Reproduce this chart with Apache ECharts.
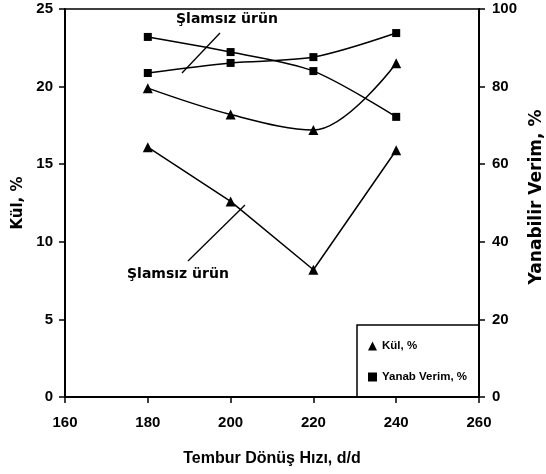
<!DOCTYPE html>
<html><head><meta charset="utf-8">
<script src="https://cdn.jsdelivr.net/npm/echarts@6/dist/echarts.min.js"></script>
<style>html,body{margin:0;padding:0;background:#fff}#c{width:546px;height:474px}</style>
</head><body><div id="c"></div>
<script>
const xTicks = [160, 180, 200, 220, 240, 260];
const speeds = [180, 200, 220, 240];
const kulUpper = [19.9, 18.2, 17.2, 21.5];
const kulLower = [16.1, 12.6, 8.2, 15.9];
const verimA = [92.8, 88.9, 84.0, 72.2];
const verimB = [83.5, 86.1, 87.6, 93.8];

const F = 'Liberation Sans';
const D = 'DejaVu Sans';
const pair = a => speeds.map((s, i) => [s, a[i]]);
const chart = echarts.init(document.getElementById('c'));
const lineS = (name, data, yIdx, sym, size, smooth) => ({
  name, type: 'line', data: pair(data), yAxisIndex: yIdx, smooth,
  symbol: sym, symbolSize: size, lineStyle: {color: '#000', width: 1.5},
  itemStyle: {color: '#000'}, silent: true, animation: false
});
const lbl = {fontFamily: F, fontWeight: 'bold', fontSize: 15, color: '#000'};
chart.setOption({
  animation: false,
  grid: {left: 65, right: 67, top: 9, bottom: 77, show: true, borderColor: '#000', borderWidth: 1.5,
         containLabel: false, outerBoundsMode: 'none'},
  xAxis: {
    type: 'value', min: 160, max: 260, interval: 20,
    name: 'Tembur Dönüş Hızı, d/d', nameLocation: 'middle', nameGap: 54,
    nameTextStyle: {fontFamily: F, fontWeight: 'bold', fontSize: 16, color: '#000'},
    axisLine: {lineStyle: {color: '#000', width: 2}},
    axisTick: {inside: false, length: 6, lineStyle: {color: '#000', width: 1.5}},
    axisLabel: Object.assign({margin: 18}, lbl),
    splitLine: {show: false}
  },
  yAxis: [{
    type: 'value', min: 0, max: 25, interval: 5, position: 'left',
    name: 'Kül, %', nameLocation: 'middle', nameGap: 37, nameRotate: 90,
    nameTextStyle: {fontFamily: D, fontWeight: 'bold', fontSize: 15, color: '#000'},
    axisLine: {show: true, lineStyle: {color: '#000', width: 2}},
    axisTick: {show: true, length: 6, lineStyle: {color: '#000', width: 1.5}},
    axisLabel: Object.assign({margin: 12}, lbl),
    splitLine: {show: false}
  }, {
    type: 'value', min: 0, max: 100, interval: 20, position: 'right',
    name: 'Yanabilir Verim, %', nameLocation: 'middle', nameGap: 42, nameRotate: 90,
    nameTextStyle: {fontFamily: D, fontWeight: 'bold', fontSize: 17, color: '#000', padding: [0, 0, 0, 12]},
    axisLine: {show: true, lineStyle: {color: '#000', width: 2}},
    axisTick: {show: true, length: 6, lineStyle: {color: '#000', width: 1.5}},
    axisLabel: Object.assign({margin: 13}, lbl),
    splitLine: {show: false}
  }],
  legend: {
    orient: 'vertical', left: 363, top: 335, itemGap: 19, itemWidth: 9, itemHeight: 9,
    textStyle: {fontFamily: F, fontWeight: 'bold', fontSize: 11.5, color: '#000'},
    data: [{name: 'Kül, %', icon: 'triangle'}, {name: 'Yanab Verim, %', icon: 'rect'}],
    selectedMode: false
  },
  series: [
    lineS('Kül, %', kulUpper, 0, 'triangle', 10, 0.35),
    lineS('Kül, %', kulLower, 0, 'triangle', 10, false),
    lineS('Yanab Verim, %', verimA, 1, 'rect', 8, 0.3),
    lineS('Yanab Verim, %', verimB, 1, 'rect', 8, 0.3)
  ],
  graphic: [
    {type: 'rect', shape: {x: 357, y: 325, width: 122, height: 72}, style: {fill: 'none', stroke: '#000', lineWidth: 1.5}, z: 10},
    {type: 'text', left: 176, top: 12, style: {text: 'Şlamsız ürün', font: 'bold 14px "DejaVu Sans"', fill: '#000'}},
    {type: 'line', shape: {x1: 220, y1: 33, x2: 182, y2: 73}, style: {stroke: '#000', lineWidth: 1.3}},
    {type: 'text', left: 127, top: 267, style: {text: 'Şlamsız ürün', font: 'bold 14px "DejaVu Sans"', fill: '#000'}},
    {type: 'line', shape: {x1: 188, y1: 261, x2: 245, y2: 205}, style: {stroke: '#000', lineWidth: 1.3}}
  ]
});
</script></body></html>
